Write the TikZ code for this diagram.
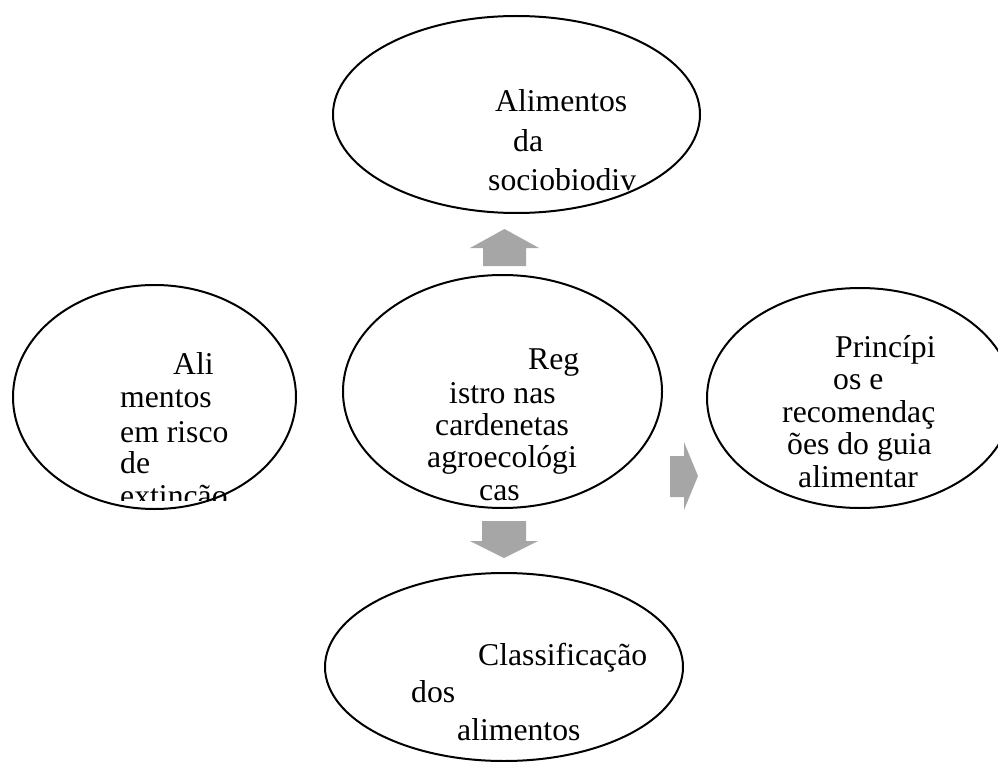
\documentclass[tikz,border=0pt]{standalone}
\usepackage{fontspec}
\setmainfont{Liberation Serif}
\usetikzlibrary{shapes.geometric}
\definecolor{cinza}{RGB}{166,166,166}

\tikzstyle{elipse} = [ellipse, draw, line width=2pt, inner sep=0pt]
\tikzstyle{linha} = [inner sep=0pt, anchor=base west, font=\fontsize{31.7}{38}\selectfont]
\tikzstyle{seta} = [fill=cinza, draw=none]

\begin{document}
\begin{tikzpicture}[x=1pt, y=-1pt]
\useasboundingbox (0,0) rectangle (998,762);
\node [elipse, minimum width=367pt, minimum height=197pt] (topo) at (516.5,114.5) {};
\node [elipse, minimum width=319pt, minimum height=233pt] (centro) at (502.5,391.5) {};
\node [elipse, minimum width=283pt, minimum height=224pt] (esq) at (154.5,397) {};
\node [elipse, minimum width=306pt, minimum height=220pt] (dir) at (860,398) {};
\node [elipse, minimum width=358pt, minimum height=188pt] (baixo) at (504,667) {};
% textos
\foreach \t/\x/\y [count=\i] in {Alimentos/495/112, da/513/152, sociobiodiv/488/191}
  \node [linha] (topo\i) at (\x,\y) {\t};
\foreach \t/\x/\y [count=\i] in {Reg/528/369, istro nas/449/403, cardenetas/435/435, agroecológi/427/467, cas/479/500}
  \node [linha] (centro\i) at (\x,\y) {\t};
\begin{scope}
\clip (0,0) rectangle (340,500);
\foreach \t/\x/\y [count=\i] in {Ali/173/374, mentos/120/407, em risco/120/442, de/120/473, extinção/120/506}
  \node [linha] (esq\i) at (\x,\y) {\t};
\end{scope}
\foreach \t/\x/\y [count=\i] in {Princípi/835/357, os e/833/389, recomendaç/782/422, ões do guia/787/454, alimentar/798/487}
  \node [linha] (dir\i) at (\x,\y) {\t};
\foreach \t/\x/\y [count=\i] in {Classificação/478/665, dos/411/702, alimentos/457/740}
  \node [linha] (baixo\i) at (\x,\y) {\t};
% setas
\fill [seta] (483,266) -- (483,248) -- (470,248) -- (504.5,229) -- (539,248) -- (526,248) -- (526,266) -- cycle;
\fill [seta] (482,521) -- (526,521) -- (526,541) -- (538,541) -- (504,558) -- (470,541) -- (482,541) -- cycle;
\fill [seta] (670,456) -- (684,456) -- (684,442) -- (698,476) -- (684,510) -- (684,497) -- (670,497) -- cycle;
\end{tikzpicture}
\end{document}
